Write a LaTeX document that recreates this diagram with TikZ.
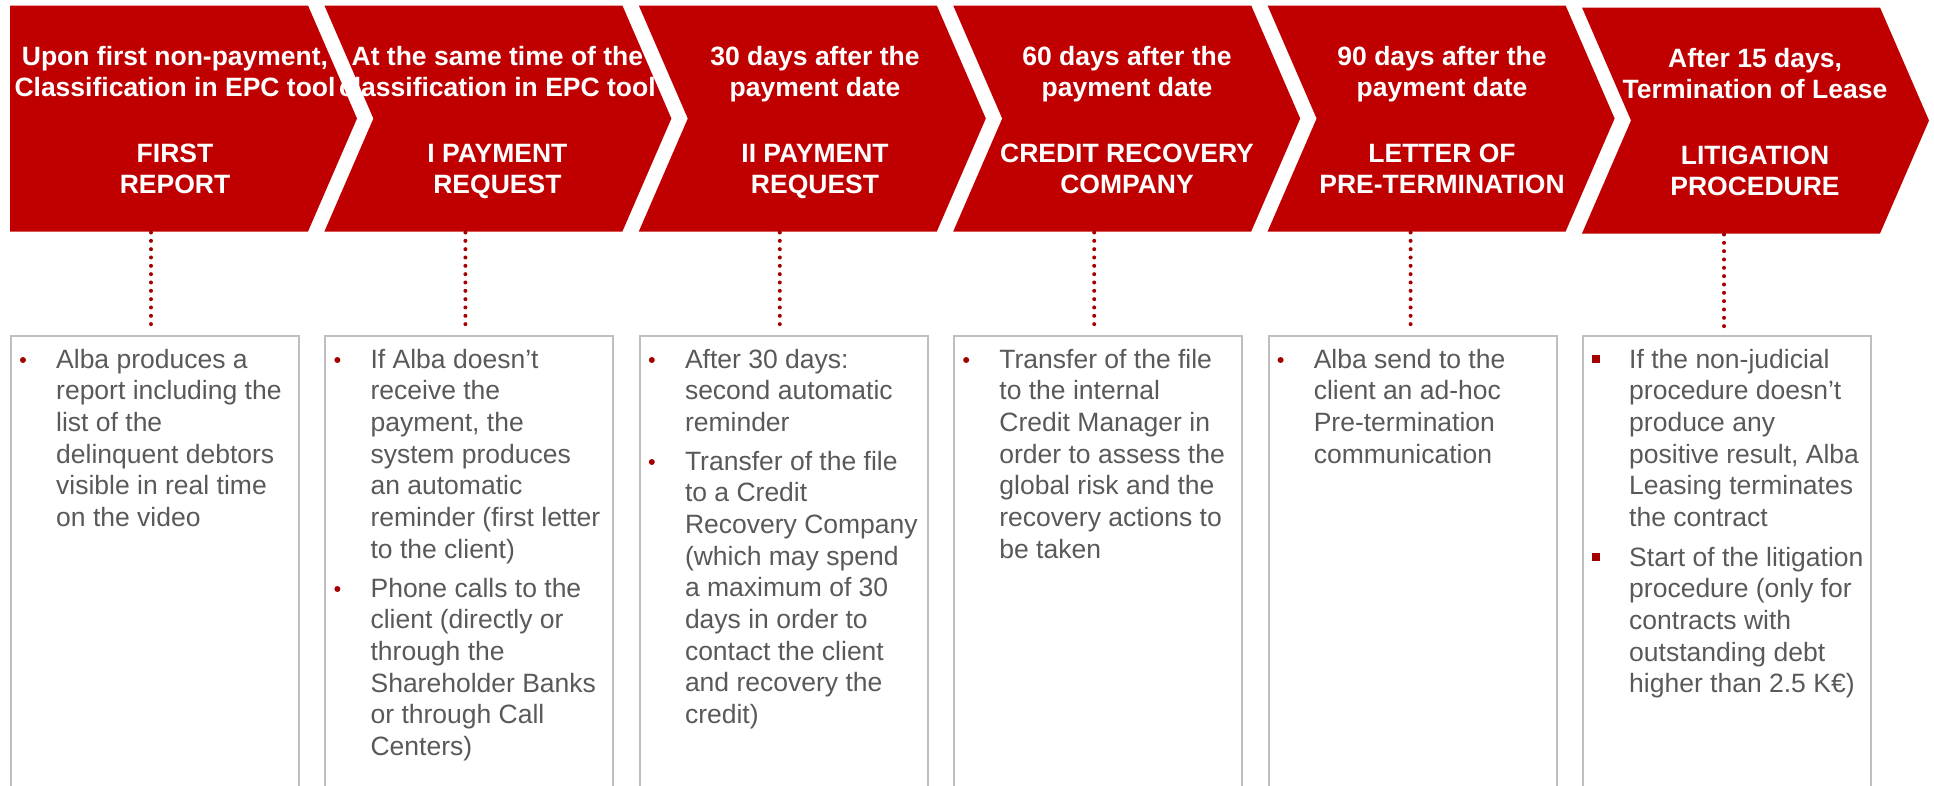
\documentclass[tikz,border=0pt]{standalone}
\usepackage{fontspec}
\setmainfont{Liberation Sans}

\definecolor{chevred}{RGB}{192,0,0}
\definecolor{dotred}{RGB}{165,0,0}
\definecolor{bodygray}{RGB}{89,89,89}
\definecolor{framegray}{RGB}{191,191,191}

% multi-line text blocks whose first baseline is the node's base
\newcommand{\chevlines}[1]{\parbox[t]{360pt}{\centering #1}}
\newcommand{\bodylines}[1]{\parbox[t]{260pt}{\raggedright #1}}

\begin{document}
\begin{tikzpicture}[x=1pt,y=-1pt,
  chevtext/.style={text=white, font=\bfseries\fontsize{26.5}{31.8}\selectfont, inner sep=0pt, anchor=base},
  panel/.style={draw=framegray, line width=2pt, minimum width=288pt, minimum height=480pt, anchor=north west, inner sep=0pt},
  bodytext/.style={text=bodygray, font=\fontsize{26.5}{31.7}\selectfont, inner sep=0pt, anchor=base west},
  dotbullet/.style={circle, fill=dotred, minimum size=6pt, inner sep=0pt},
  sqbullet/.style={rectangle, fill=dotred, minimum size=7.5pt, inner sep=0pt},
  dotline/.style={draw=dotred, line width=4pt, line cap=round, dash pattern=on 0pt off 8.33pt, shorten >=3pt}
]
\useasboundingbox (0,0) rectangle (1934,785);
\clip (0,0) rectangle (1934,785);

% ---- process chevrons ----
\fill[chevred] (10,5.5) -- ++(298,0) -- ++(49,113) -- ++(-49,113) -- ++(-298,0) -- cycle;
\foreach \L/\T in {324.4/5.5, 638.8/5.5, 953.2/5.5, 1267.6/5.5, 1582/7.5}
  \fill[chevred] (\L,\T) -- ++(298,0) -- ++(49,113) -- ++(-49,113) -- ++(-298,0) -- ++(49,-113) -- cycle;

% ---- chevron captions ----
\node[chevtext] (h1) at (175,65) {\chevlines{Upon first non-payment,\\Classification in EPC tool}};
\node[chevtext] (n1) at (175,162) {\chevlines{FIRST\\REPORT}};
\node[chevtext] (h2) at (497.4,65) {\chevlines{At the same time of the\\classification in EPC tool}};
\node[chevtext] (n2) at (497.4,162) {\chevlines{I PAYMENT\\REQUEST}};
\node[chevtext] (h3) at (815,65) {\chevlines{30 days after the\\payment date}};
\node[chevtext] (n3) at (815,162) {\chevlines{II PAYMENT\\REQUEST}};
\node[chevtext] (h4) at (1127,65) {\chevlines{60 days after the\\payment date}};
\node[chevtext] (n4) at (1127,162) {\chevlines{CREDIT RECOVERY\\COMPANY}};
\node[chevtext] (h5) at (1442,65) {\chevlines{90 days after the\\payment date}};
\node[chevtext] (n5) at (1442,162) {\chevlines{LETTER OF\\PRE-TERMINATION}};
\node[chevtext] (h6) at (1755,67) {\chevlines{After 15 days,\\Termination of Lease}};
\node[chevtext] (n6) at (1755,164) {\chevlines{LITIGATION\\PROCEDURE}};

% ---- description panels ----
\node[panel] (p1) at (10,335) {};
\node[panel] (p2) at (324.4,335) {};
\node[panel] (p3) at (638.8,335) {};
\node[panel] (p4) at (953.2,335) {};
\node[panel] (p5) at (1267.6,335) {};
\node[panel] (p6) at (1582,335) {};

% ---- dotted links from each step to its panel ----
\coordinate (k1) at (151,232.5);
\coordinate (k2) at (465.4,232.5);
\coordinate (k3) at (779.8,232.5);
\coordinate (k4) at (1094.2,232.5);
\coordinate (k5) at (1410.6,232.5);
\coordinate (k6) at (1724,234.5);
\foreach \i in {1,...,6}
  \draw[dotline] (k\i) -- (k\i |- p\i.north);

% ---- panel 1 ----
\node[dotbullet] (d1a) at (23,360) {};
\node[bodytext] (t1a) at (56,368) {\bodylines{Alba produces a\\report including the\\list of the\\delinquent debtors\\visible in real time\\on the video}};

% ---- panel 2 ----
\node[dotbullet] (d2a) at (337.4,360) {};
\node[bodytext] (t2a) at (370.4,368) {\bodylines{If Alba doesn’t\\receive the\\payment, the\\system produces\\an automatic\\reminder (first letter\\to the client)}};
\node[dotbullet] (d2b) at (337.4,589) {};
\node[bodytext] (t2b) at (370.4,597) {\bodylines{Phone calls to the\\client (directly or\\through the\\Shareholder Banks\\or through Call\\Centers)}};

% ---- panel 3 ----
\node[dotbullet] (d3a) at (651.8,360) {};
\node[bodytext] (t3a) at (684.8,368) {\bodylines{After 30 days:\\second automatic\\reminder}};
\node[dotbullet] (d3b) at (651.8,462) {};
\node[bodytext] (t3b) at (684.8,470) {\bodylines{Transfer of the file\\to a Credit\\Recovery Company\\(which may spend\\a maximum of 30\\days in order to\\contact the client\\and recovery the\\credit)}};

% ---- panel 4 ----
\node[dotbullet] (d4a) at (966.2,360) {};
\node[bodytext] (t4a) at (999.2,368) {\bodylines{Transfer of the file\\to the internal\\Credit Manager in\\order to assess the\\global risk and the\\recovery actions to\\be taken}};

% ---- panel 5 ----
\node[dotbullet] (d5a) at (1280.6,360) {};
\node[bodytext] (t5a) at (1313.6,368) {\bodylines{Alba send to the\\client an ad-hoc\\Pre-termination\\communication}};

% ---- panel 6 ----
\node[sqbullet] (d6a) at (1596,359) {};
\node[bodytext] (t6a) at (1629,368) {\bodylines{If the non-judicial\\procedure doesn’t\\produce any\\positive result, Alba\\Leasing terminates\\the contract}};
\node[sqbullet] (d6b) at (1596,557) {};
\node[bodytext] (t6b) at (1629,566) {\bodylines{Start of the litigation\\procedure (only for\\contracts with\\outstanding debt\\higher than 2.5 K€)}};

\end{tikzpicture}
\end{document}
